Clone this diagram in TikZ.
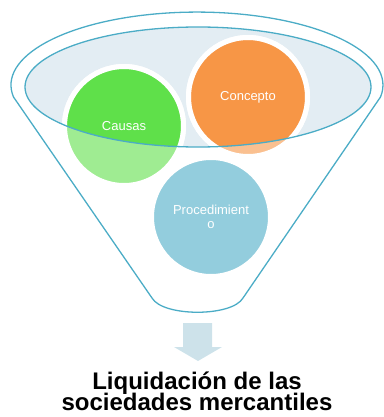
\documentclass[tikz,border=0pt]{standalone}
\usepackage{fontspec}
\setmainfont{Liberation Sans}
\usepackage{tikz}
\definecolor{funnelblue}{RGB}{75,172,198}
\definecolor{glassblue}{RGB}{227,237,243}
\definecolor{causasgreen}{RGB}{95,224,74}
\definecolor{conceptoorange}{RGB}{247,150,70}
\definecolor{arrowblue}{RGB}{205,226,234}
\tikzset{
  bubble/.style={circle, draw=white, line width=5pt, minimum size=119pt, inner sep=0pt,
    fill opacity=0.6, text opacity=1, text=white, align=center,
    font=\fontsize{13}{13.5}\selectfont},
  rim/.style={draw=funnelblue, line width=1.3pt}
}

\begin{document}
\begin{tikzpicture}[x=1pt,y=-1pt]
\useasboundingbox (0,0) rectangle (383,417);
\coordinate (glass) at (198,87);
\coordinate (pa) at (124,126);
\coordinate (pb) at (248,97);
\coordinate (pc) at (211,217);
\coordinate (left) at (13.5,97);
\coordinate (bl) at (152,298);
\coordinate (br) at (243,298);
% draws funnel
\draw[rim, line join=round] (left) arc[start angle=170.6, end angle=369.4, x radius=186, y radius=73]
  -- (br) .. controls (232,317) and (163,317) .. (bl) -- cycle;
% glass of the funnel
\fill[glassblue] (glass) ellipse[x radius=173, y radius=60];
\begin{scope}
\clip (glass) ellipse[x radius=173, y radius=60];
\draw[white, line width=5pt, fill=causasgreen] (pa) circle[radius=59.5];
\draw[white, line width=5pt, fill=conceptoorange] (pb) circle[radius=59.5];
\draw[white, line width=5pt, fill=funnelblue] (pc) circle[radius=59.5];
\end{scope}
% draws bubbles
\node[bubble, fill=causasgreen] (causas) at (pa) {Causas};
\node[bubble, fill=conceptoorange] (concepto) at (pb) {Concepto};
\node[bubble, fill=funnelblue] (procedimiento) at (pc) {Procedimient\\o};
% rim of the glass
\draw[rim] (glass) ellipse[x radius=173, y radius=60];
% arrow and result
\fill[arrowblue] (183,323) -- (212,323) -- (212,347) -- (222,347) -- (198,361)
  -- (174,347) -- (183,347) -- cycle;
\node[align=center, font=\bfseries\fontsize{24}{19}\selectfont, inner sep=0pt, anchor=base]
  (titulo) at (197,410) {Liquidación de las\\[-2.5pt]sociedades mercantiles};
\end{tikzpicture}
\end{document}
